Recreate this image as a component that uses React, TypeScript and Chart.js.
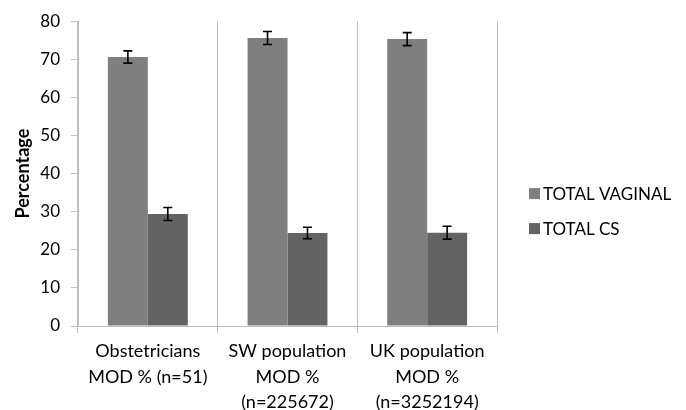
import React, { useEffect, useRef } from "react";
import { Chart, registerables } from "chart.js";

Chart.register(...registerables);

const categories: string[][] = [
  ["Obstetricians", "MOD % (n=51)"],
  ["SW population", "MOD %", "(n=225672)"],
  ["UK population", "MOD %", "(n=3252194)"],
];
const seriesNames = ["TOTAL VAGINAL", "TOTAL CS"];
const vaginal = [70.6, 75.6, 75.3];
const vaginalErr = [1.6, 1.7, 1.7];
const cs = [29.4, 24.4, 24.5];
const csErr = [1.7, 1.5, 1.7];
const yMin = 0;
const yMax = 80;
const yStep = 10;

const FONT = "Lato, 'Open Sans', sans-serif";

const errorBarPlugin = {
  id: "errorBars",
  afterDatasetsDraw(chart: any) {
    const ctx = chart.ctx;
    const yScale = chart.scales.y;
    chart.data.datasets.forEach((ds: any, i: number) => {
      const meta = chart.getDatasetMeta(i);
      const errs: number[] = ds.errors || [];
      meta.data.forEach((bar: any, j: number) => {
        const v = ds.data[j];
        const e = errs[j];
        if (e == null) return;
        const x = bar.x;
        const yT = yScale.getPixelForValue(v + e);
        const yB = yScale.getPixelForValue(v - e);
        ctx.save();
        ctx.strokeStyle = "#000";
        ctx.lineWidth = 1.6;
        ctx.beginPath();
        ctx.moveTo(x, yT);
        ctx.lineTo(x, yB);
        ctx.moveTo(x - 4.5, yT);
        ctx.lineTo(x + 4.5, yT);
        ctx.moveTo(x - 4.5, yB);
        ctx.lineTo(x + 4.5, yB);
        ctx.stroke();
        ctx.restore();
      });
    });
  },
};

const legendPlugin = {
  id: "customLegend",
  afterDraw(chart: any) {
    const ctx = chart.ctx;
    const area = chart.chartArea;
    const mid = (area.top + area.bottom) / 2;
    const x0 = area.right + 32;
    const rowGap = 35;
    const firstY = mid + 20;
    ctx.save();
    ctx.font = `17px ${FONT}`;
    ctx.textBaseline = "middle";
    ctx.textAlign = "left";
    chart.data.datasets.forEach((ds: any, i: number) => {
      const cy = firstY + i * rowGap;
      ctx.fillStyle = ds.backgroundColor;
      ctx.fillRect(x0, cy - 5.5, 11, 11);
      ctx.fillStyle = "#000";
      ctx.fillText(ds.label, x0 + 14, cy + 1);
    });
    ctx.restore();
  },
};

export default function App() {
  const ref = useRef<HTMLCanvasElement | null>(null);

  useEffect(() => {
    if (!ref.current) return;
    const chart = new Chart(ref.current, {
      type: "bar",
      data: {
        labels: categories,
        datasets: [
          {
            label: seriesNames[0],
            data: vaginal,
            errors: vaginalErr,
            backgroundColor: "#7f7f7f",
            borderWidth: 0,
            categoryPercentage: 0.572,
            barPercentage: 1,
          } as any,
          {
            label: seriesNames[1],
            data: cs,
            errors: csErr,
            backgroundColor: "#636363",
            borderWidth: 0,
            categoryPercentage: 0.572,
            barPercentage: 1,
          } as any,
        ],
      },
      options: {
        responsive: false,
        animation: false,
        devicePixelRatio: 1,
        layout: { padding: { left: 4, right: 189, top: 21, bottom: 0 } },
        plugins: {
          legend: { display: false },
          tooltip: { enabled: false },
        },
        scales: {
          x: {
            grid: {
              display: true,
              offset: true,
              color: "#bfbfbf",
              lineWidth: 1,
              drawOnChartArea: true,
              drawTicks: true,
              tickLength: 7,
            },
            border: { display: true, color: "#bfbfbf" },
            ticks: {
              color: "#000",
              font: { family: FONT, size: 18, lineHeight: 1.4 },
              padding: 6,
              maxRotation: 0,
              autoSkip: false,
            },
            afterFit(scale: any) {
              scale.height = 84;
            },
          },
          y: {
            min: yMin,
            max: yMax,
            grid: {
              display: true,
              drawOnChartArea: false,
              drawTicks: true,
              tickLength: 7,
              color: "#bfbfbf",
            },
            border: { display: true, color: "#bfbfbf" },
            ticks: {
              stepSize: yStep,
              color: "#000",
              font: { family: FONT, size: 17 },
              padding: 11,
            },
            title: {
              display: true,
              text: "Percentage",
              color: "#000",
              font: { family: FONT, size: 18, weight: "bold" },
              padding: { top: 8, bottom: 0 },
            },
            afterFit(scale: any) {
              scale.width = 74;
            },
          },
        },
      } as any,
      plugins: [errorBarPlugin, legendPlugin],
    });
    return () => chart.destroy();
  }, []);

  return (
    <div style={{ position: "absolute", left: 0, top: 0, width: 686, height: 410, background: "#fff" }}>
      <canvas ref={ref} width={686} height={410} style={{ display: "block" }} />
    </div>
  );
}
